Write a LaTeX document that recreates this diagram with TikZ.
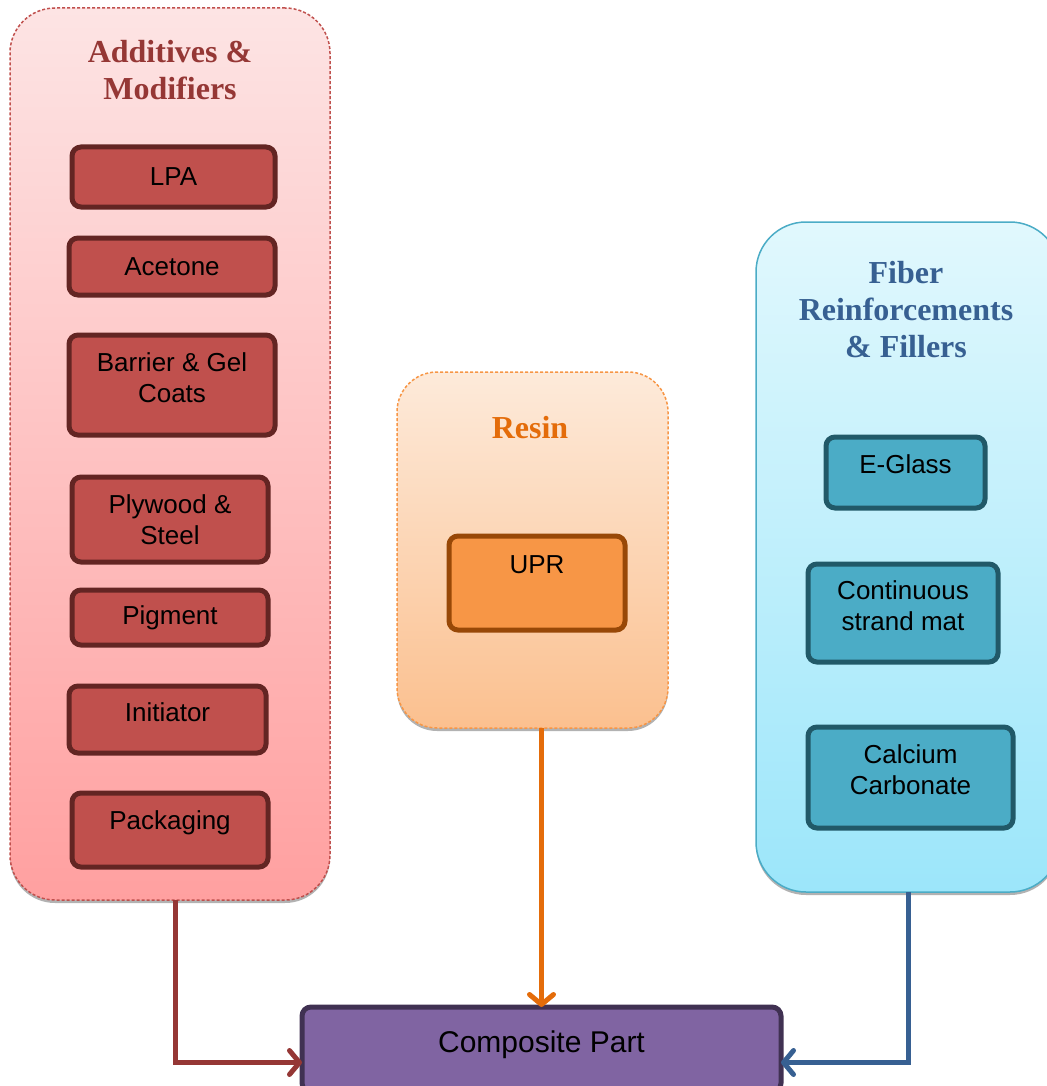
\documentclass[tikz,border=0pt]{standalone}
\usepackage{fontspec}
\setmainfont{Liberation Sans}
\newfontfamily\headfont{Liberation Serif}
\usetikzlibrary{arrows.meta,shadows}
\definecolor{addline}{RGB}{192, 80, 77}
\definecolor{addtop}{RGB}{253, 228, 228}
\definecolor{addbot}{RGB}{255, 160, 160}
\definecolor{addfill}{RGB}{192, 80, 77}
\definecolor{addedge}{RGB}{99, 37, 35}
\definecolor{addhead}{RGB}{149, 55, 53}
\definecolor{resline}{RGB}{247, 150, 70}
\definecolor{restop}{RGB}{253, 234, 218}
\definecolor{resbot}{RGB}{251, 192, 143}
\definecolor{resfill}{RGB}{247, 150, 70}
\definecolor{resedge}{RGB}{152, 72, 7}
\definecolor{reshead}{RGB}{228, 108, 10}
\definecolor{fibline}{RGB}{75, 172, 198}
\definecolor{fibtop}{RGB}{225, 248, 253}
\definecolor{fibbot}{RGB}{156, 230, 250}
\definecolor{fibfill}{RGB}{75, 172, 198}
\definecolor{fibedge}{RGB}{33, 89, 104}
\definecolor{fibhead}{RGB}{55, 96, 146}
\definecolor{compfill}{RGB}{128, 100, 162}
\definecolor{compedge}{RGB}{64, 49, 82}

\begin{document}
\begin{tikzpicture}[
    x=1pt, y=-1pt,
    group/.style={draw, rounded corners=#1, inner sep=0pt, outer sep=0pt,
      line width=1.5pt,
      drop shadow={shadow xshift=0pt, shadow yshift=-3pt, fill=black!60}},
    dashline/.style={dash pattern=on 3pt off 2pt},
    heading/.style={font={\headfont\bfseries\fontsize{32}{37}\selectfont}, align=center},
    item/.style={line width=5pt, rounded corners=9pt, inner sep=0pt, outer sep=0pt,
      align=center, font={\fontsize{26}{31}\selectfont}},
    additem/.style={item, draw=addedge, fill=addfill},
    resitem/.style={item, draw=resedge, fill=resfill},
    fibitem/.style={item, draw=fibedge, fill=fibfill},
    link/.style={line width=5pt,
      -{Straight Barb[length=10pt, width=24pt, line width=5pt, round]}},
  ]
  \useasboundingbox (0,0) rectangle (1046,1086);

  % --- Additives & Modifiers ---
  \node[group=45pt, dashline, draw=addline, top color=addtop, bottom color=addbot,
    minimum width=320pt, minimum height=892pt] (add) at (170,454) {};
  \node[heading, addhead] (addtitle) at (170,70) {Additives \&\\Modifiers};
  \node[additem, minimum width=203pt, minimum height=60pt] (lpa) at (173.5,177) {LPA};
  \node[additem, minimum width=206pt, minimum height=57pt] (acetone) at (172,266.5) {Acetone};
  \node[additem, minimum width=206pt, minimum height=100pt, text depth=14pt] (barrier) at (172,385) {Barrier \& Gel\\Coats};
  \node[additem, minimum width=196pt, minimum height=85pt] (plywood) at (170,519.5) {Plywood \&\\Steel};
  \node[additem, minimum width=196pt, minimum height=55pt] (pigment) at (170,617.5) {Pigment};
  \node[additem, minimum width=197pt, minimum height=67pt, text depth=15pt] (initiator) at (167.5,719.5) {Initiator};
  \node[additem, minimum width=196pt, minimum height=74pt, text depth=19pt] (packaging) at (170,830) {Packaging};

  % --- Resin ---
  \node[group=40pt, dashline, draw=resline, top color=restop, bottom color=resbot,
    minimum width=271pt, minimum height=356pt] (res) at (532.5,550) {};
  \node[heading, reshead] (restitle) at (530,428) {Resin};
  \node[resitem, minimum width=176pt, minimum height=94pt, text depth=37pt] (upr) at (537,583) {UPR};

  % --- Fiber Reinforcements & Fillers ---
  \node[group=50pt, draw=fibline, top color=fibtop, bottom color=fibbot,
    minimum width=304pt, minimum height=670pt] (fib) at (908,557) {};
  \node[heading, fibhead] (fibtitle) at (906,310) {Fiber\\Reinforcements\\\& Fillers};
  \node[fibitem, minimum width=159pt, minimum height=71pt, text depth=17pt] (eglass) at (905.5,472.5) {E-Glass};
  \node[fibitem, minimum width=190pt, minimum height=98pt, text depth=14pt] (strand) at (903,613) {Continuous\\strand mat};
  \node[fibitem, minimum width=205pt, minimum height=101pt, text depth=15pt] (calcium) at (910.5,777.5) {Calcium\\Carbonate};

  % --- Composite Part ---
  \node[item, draw=compedge, fill=compfill, minimum width=479pt, minimum height=85pt,
    text depth=16pt, font={\fontsize{30}{36}\selectfont}] (comp) at (541.5,1049.5) {Composite Part};

  % Flows into the part
  \draw[link, addhead] ([xshift=5pt]add.south) |- ([yshift=-13pt]comp.west);
  \draw[link, reshead] (comp.north |- res.south) -- (comp.north);
  \draw[link, fibhead] (fib.south) |- ([yshift=-13pt]comp.east);

\end{tikzpicture}
\end{document}
